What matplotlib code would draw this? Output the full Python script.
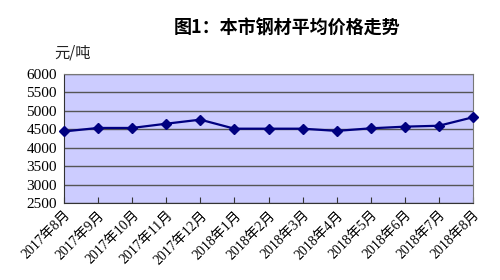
import matplotlib
matplotlib.use("Agg")
import matplotlib.pyplot as plt

months = ['2017年8月', '2017年9月', '2017年10月', '2017年11月', '2017年12月',
          '2018年1月', '2018年2月', '2018年3月', '2018年4月', '2018年5月',
          '2018年6月', '2018年7月', '2018年8月']
prices = [4440, 4535, 4535, 4650, 4760, 4515, 4515, 4515, 4455, 4525, 4570, 4595, 4825]
yticks = [2500, 3000, 3500, 4000, 4500, 5000, 5500, 6000]

fonts = ['Liberation Serif', 'Noto Sans CJK SC', 'DejaVu Sans']
plt.rcParams['font.family'] = fonts

fig = plt.figure(figsize=(5, 2.8), dpi=100)
ax = fig.add_axes([0.128, 0.275, 0.818, 0.461])
ax.set_facecolor('#ccccff')

x = list(range(len(months)))
ax.plot(x, prices, color='#000080', lw=1.6, marker='D', ms=5.5, clip_on=False, zorder=3)

ax.set_xlim(0, len(months) - 1)
ax.set_ylim(2500, 6000)
ax.set_yticks(yticks)
ax.set_yticklabels([str(v) for v in yticks], fontsize=11)
ax.grid(axis='y', color='#555555', lw=1)
ax.set_axisbelow(True)

ax.set_xticks(x)
ax.set_xticklabels(months, rotation=45, ha='right', rotation_mode='anchor', fontsize=10)
ax.tick_params(axis='x', direction='in', length=4, color='#333333', pad=4)
ax.tick_params(axis='y', length=0, pad=5)
for s in ax.spines.values():
    s.set_color('#777777')
ax.spines['bottom'].set_color('#333333')
ax.spines['left'].set_color('#333333')

fig.text(0.574, 0.9, '图1：本市钢材平均价格走势', ha='center', va='center',
         fontsize=13, fontweight='bold', family=['Noto Sans CJK SC'])
fig.text(0.108, 0.81, '元/吨', ha='left', va='center', fontsize=11,
         family=['Noto Sans CJK SC'], color='#222222')

fig.savefig('out.png', dpi=100)
